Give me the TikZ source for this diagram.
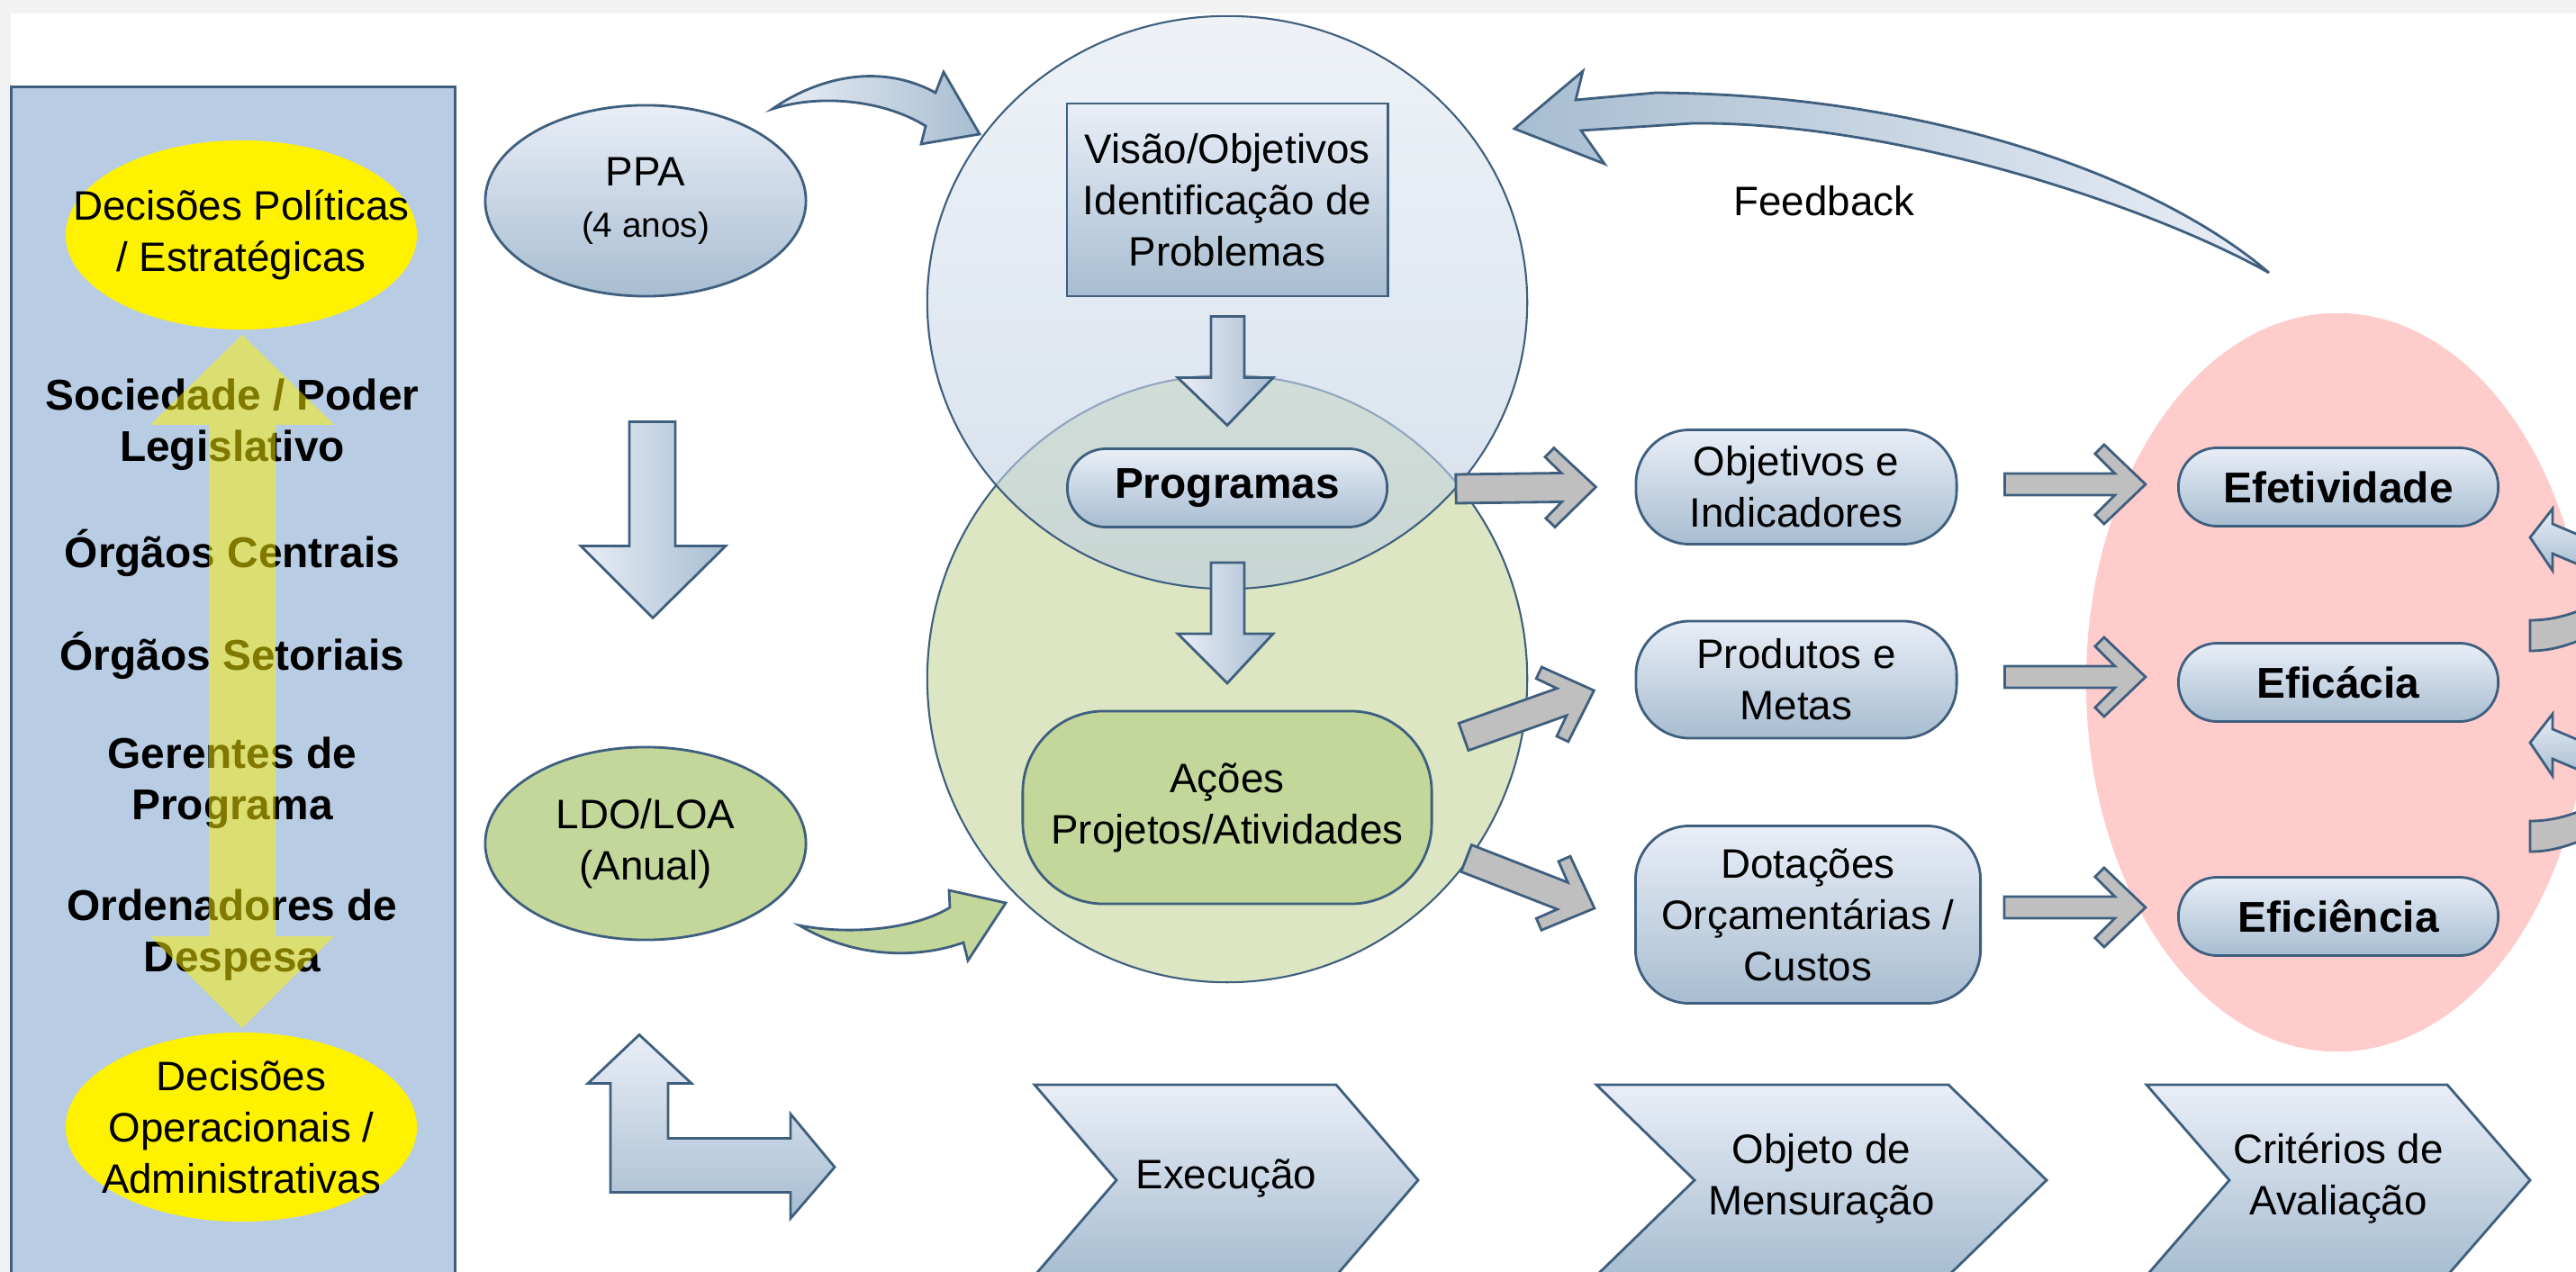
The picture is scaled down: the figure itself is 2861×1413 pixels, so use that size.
\documentclass[tikz,border=0pt]{standalone}
\usepackage{fontspec}
\setmainfont{Liberation Sans}
\usetikzlibrary{shapes.geometric, calc}

\definecolor{bord}{HTML}{3F5F7F}
\definecolor{bluelt}{HTML}{E9EEF7}
\definecolor{bluedk}{HTML}{A7BDD1}
\definecolor{panelc}{HTML}{B8CCE4}
\definecolor{greenc}{HTML}{C4D79B}
\definecolor{greenlt}{HTML}{DCE6C2}
\definecolor{ellblt}{HTML}{E3EAF3}
\definecolor{ellbdk}{HTML}{BCCDE0}
\definecolor{pinkc}{HTML}{FFCCCC}
\definecolor{grayc}{HTML}{BFBFBF}
\definecolor{framec}{HTML}{F2F2F2}

\tikzstyle{txt} = [font=\fontsize{13}{16.2}\selectfont, align=center]
\tikzstyle{btxt} = [font=\fontsize{13.6}{16.2}\selectfont\bfseries, align=center]
\tikzstyle{yell} = [ellipse, fill=yellow, minimum width=3.9cm, minimum height=2.1cm, inner sep=0pt]
\tikzstyle{bluebox} = [draw=bord, line width=0.8pt, top color=bluelt, bottom color=bluedk, txt]
\tikzstyle{pill} = [bluebox, rounded corners=0.43cm, minimum width=3.55cm, minimum height=0.87cm, btxt]
\tikzstyle{midbox} = [bluebox, rounded corners=0.6cm, minimum width=3.56cm]
\tikzstyle{grayarr} = [draw=bord, line width=0.8pt, fill=grayc, line join=miter]
\tikzstyle{blockh} = [draw=bord, line width=0.8pt, left color=bluelt, right color=bluedk]
\tikzstyle{blockv} = [draw=bord, line width=0.8pt, top color=bluelt, bottom color=bluedk]

% gray arrow with open chevron head: #1 half shaft, #2 tail, #3 tip
\newcommand{\chevarr}[3]{%
  \path #2 coordinate (ca) #3 coordinate (cb);
  \pgfpointdiff{\pgfpointanchor{ca}{center}}{\pgfpointanchor{cb}{center}}%
  \pgfgetlastxy{\chevdx}{\chevdy}%
  \pgfmathsetmacro{\chevang}{atan2(\chevdy,\chevdx)}%
  \pgfmathsetmacro{\chevlen}{veclen(\chevdx,\chevdy)/0.284528}%
  \begin{scope}[shift={(ca)}, rotate=\chevang]
    \draw[grayarr] (0,-#1) -- ({\chevlen-22-#1},-#1) -- ({\chevlen-56},-34)
      -- ({\chevlen-46},-44) -- (\chevlen,0) -- ({\chevlen-46},44)
      -- ({\chevlen-56},34) -- ({\chevlen-22-#1},#1) -- (0,#1) -- cycle;
  \end{scope}}

\begin{document}
\begin{tikzpicture}[x=0.01cm, y=-0.01cm]

\useasboundingbox (0,0) rectangle (2861,1413);
\fill[framec] (0,0) rectangle (2861,1413);
\fill[white] (12,15) rectangle (2861,1413);

% left panel
\node[draw=bord, line width=0.8pt, fill=panelc, minimum width=4.92cm, minimum height=13.3cm, inner sep=0pt] (panel) at (259,762) {};
\node[yell] (ypol) at (268,261) {};
\node[txt] (ypoltxt) at (ypol) {Decisões Políticas\\/ Estratégicas};
\node[yell] (yop) at (268,1252) {};
\node[txt] (yoptxt) at (yop) {Decisões\\Operacionais /\\Administrativas};

\node[btxt] (soc) at (258,472) {Sociedade / Poder\\Legislativo};
\node[btxt] (centr) at (258,614) {Órgãos Centrais};
\node[btxt] (setor) at (258,728) {Órgãos Setoriais};
\node[btxt] (ger) at (258,870) {Gerentes de\\Programa};
\node[btxt] (orden) at (258,1039) {Ordenadores de\\Despesa};

\coordinate (upt) at ($(ypol.south)+(1,5)$);
\coordinate (dnt) at ($(yop.north)+(1,-4)$);
\fill[yellow, fill opacity=0.5] (upt) -- ++(102,100) -- ++(-65,0) -- ($(dnt)+(37,-102)$) -- ++(65,0) -- (dnt)
  -- ++(-102,-102) -- ++(65,0) -- ($(upt)+(-37,100)$) -- ++(-65,0) -- cycle;

% PPA / LDO
\node[ellipse, bluebox, minimum width=3.56cm, minimum height=2.12cm] (ppa) at (717,223) {PPA\\{\fontsize{11}{13}\selectfont (4 anos)}};
\node[ellipse, draw=bord, line width=0.8pt, fill=greenc, txt, minimum width=3.56cm, minimum height=2.14cm] (ldo) at (717,937) {LDO/LOA\\(Anual)};

\coordinate (dtop) at ($(ppa.south)+(8,138)$);
\draw[blockh] ($(dtop)+(-26,0)$) -- ++(51,0) -- ++(0,138) -- ++(56,0) -- ++(-81,80) -- ++(-80,-80) -- ++(54,0) -- cycle;

\coordinate (ltip) at ($(ldo.south)+(-7,104)$);
\draw[blockv] (ltip) -- ++(58,54) -- ++(-26,0) -- ++(0,61) -- ++(136,0) -- ++(0,-27) -- ++(49,59)
  -- ++(-49,57) -- ++(0,-29) -- ++(-200,0) -- ++(0,-121) -- ++(-25,0) -- cycle;

\draw[blockh] (858,121) .. controls (905,88) and (975,68) .. (1039,103) -- (1048,80) -- (1088,149)
  -- (1023,160) -- (1028,140) .. controls (985,113) and (915,103) .. (858,121) -- cycle;
\draw[draw=bord, line width=0.8pt, fill=greenc] (888,1028) .. controls (950,1065) and (1020,1065) .. (1070,1047)
  -- (1075,1067) -- (1117,1003) -- (1054,989) -- (1055,1008) .. controls (1020,1030) and (950,1040) .. (888,1028) -- cycle;

% evaluation area
\node[ellipse, fill=pinkc, minimum width=5.58cm, minimum height=8.2cm, inner sep=0pt] (pinkell) at (2596,758) {};

% programme ellipses
\node[ellipse, draw=bord, line width=0.6pt, fill=greenlt, minimum width=6.66cm, minimum height=6.74cm] (greenell) at (1363,754) {};
\node[ellipse, draw=bord, line width=0.6pt, top color=ellblt, bottom color=ellbdk, fill opacity=0.6, minimum width=6.66cm, minimum height=6.36cm] (topell) at (1363,336) {};

\node[bluebox, minimum width=3.56cm, minimum height=2.14cm] (visao) at (1363,222) {Visão/Objetivos\\Identificação de\\Problemas};
\node[pill] (prog) at (1363,542) {Programas};
\node[draw=bord, line width=0.8pt, fill=greenc, rounded corners=0.9cm, minimum width=4.54cm, minimum height=2.14cm, txt] (acoes) at (1363,897) {Ações\\Projetos/Atividades};

\draw[blockh] ($(visao.south)+(-18,21)$) -- ++(37,0) -- ++(0,68) -- ++(32,0) -- ++(-51,53) -- ++(-55,-53) -- ++(37,0) -- cycle;
\draw[blockh] ($(prog.south)+(-18,38)$) -- ++(37,0) -- ++(0,79) -- ++(32,0) -- ++(-51,55) -- ++(-55,-55) -- ++(37,0) -- cycle;

% measured objects
\node[midbox, minimum height=1.27cm] (objind) at (1995,541) {Objetivos e\\Indicadores};
\node[midbox, minimum height=1.3cm] (prodmet) at (1995,755) {Produtos e\\Metas};
\node[midbox, minimum width=3.83cm, minimum height=1.97cm] (dotac) at (2008,1016) {Dotações\\Orçamentárias /\\Custos};

\node[pill] (efet) at (2597,541) {Efetividade};
\node[pill] (efic) at (2597,758) {Eficácia};
\node[pill] (efice) at (2597,1018) {Eficiência};

\chevarr{16}{($(prog.east)+(75,1)$)}{($(objind.west)+(-43,0)$)}
\chevarr{16}{($(acoes.north east)+(34,30)$)}{($(prodmet.west)+(-45,12)$)}
\chevarr{16}{($(acoes.south east)+(37,-52)$)}{($(dotac.west)+(-44,-7)$)}
\chevarr{12}{($(objind.east)+(52,-3)$)}{($(efet.west)+(-35,-3)$)}
\chevarr{12}{($(prodmet.east)+(52,-3)$)}{($(efic.west)+(-35,-6)$)}
\chevarr{12}{($(dotac.east)+(25,-8)$)}{($(efice.west)+(-35,-10)$)}

% feedback
\draw[draw=bord, line width=0.8pt, left color=bluedk, right color=bluelt] (2520,303) .. controls (2400,200) and (2150,105) .. (1839,103)
  -- (1750,111) -- (1758,79) -- (1682,143) -- (1782,182) -- (1756,145) -- (1880,137)
  .. controls (2100,135) and (2380,225) .. (2520,303) -- cycle;
\node[txt] (fb) at (2026,223) {Feedback};

% arrows cut at the right edge
\foreach \dy in {0,228}
{
\draw[blockv] (2810,{597+\dy}) -- (2835,{565+\dy}) -- (2835,{582+\dy}) -- (2880,{601+\dy}) -- (2880,{634+\dy}) -- (2835,{615+\dy}) -- (2835,{634+\dy}) -- cycle;
}
\foreach \dy in {0,223}
{
\draw[grayarr] (2810,{689+\dy}) .. controls (2835,{689+\dy}) and (2855,{683+\dy}) .. (2880,{672+\dy}) -- (2880,{705+\dy})
  .. controls (2855,{716+\dy}) and (2835,{723+\dy}) .. (2810,{723+\dy}) -- cycle;
}

% bottom stages
\foreach \xa/\bw/\bd/\nm/\lbl in {1149/335/91/exec/Execução, 1773/391/109/objm/{Objeto de\\Mensuração}, 2384/334/92/crit/{Critérios de\\Avaliação}}
{
\draw[blockv] (\xa,1205) -- ++(\bw,0) -- ++(\bd,106) -- ++(-\bd,106) -- ++(-\bw,0) -- ++(\bd,-106) -- cycle;
\node[txt] (\nm) at ({\xa+(\bd+\bw)/2},1309) {\lbl};
}

\end{tikzpicture}
\end{document}
